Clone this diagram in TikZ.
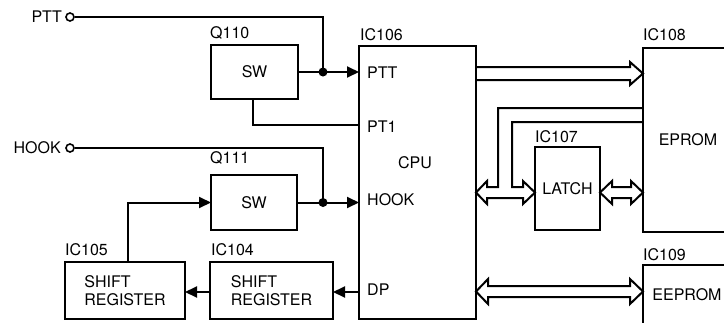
\documentclass[tikz,border=0pt]{standalone}
\usepackage{fontspec}
\setmainfont{TeX Gyre Heros}
\usetikzlibrary{arrows.meta,calc}
\begin{document}
\begin{tikzpicture}[x=1pt,y=-1pt,
 txt/.style={inner sep=0pt, font=\fontsize{16}{17.5}\selectfont},
 box/.style={draw, line width=2.8pt, inner sep=0pt, outer sep=0pt, anchor=north west, align=left, font=\fontsize{16}{17.5}\selectfont},
 lbl/.style={txt, anchor=west},
 wire/.style={line width=2pt},
 arr/.style={wire, -{Triangle[length=12pt,width=11pt]}},
 jdot/.style={circle, fill, inner sep=0pt, minimum size=9pt},
 opencirc/.style={circle, draw, line width=1.6pt, fill=white, inner sep=0pt, minimum size=8pt},
 bus/.style={line width=2pt, line join=miter}]
\useasboundingbox (0,0) rectangle (724,322);
\clip (0,0) rectangle (724,322);

% boxes
\node[box, minimum width=87, minimum height=54] (q110) at (211,45) {SW};
\node[box, minimum width=86, minimum height=55] (q111) at (211,175) {SW};
\node[box, minimum width=120, minimum height=57] (ic105) at (65,262) {SHIFT\\REGISTER};
\node[box, minimum width=123, minimum height=57] (ic104) at (210,262) {SHIFT\\REGISTER};
\node[box, minimum width=117, minimum height=273] (cpu) at (359,46) {};
\node[box, minimum width=65, minimum height=83] (latch) at (535,147) {LATCH};
\node[box, minimum width=90, minimum height=184] (eprom) at (643,48) {EPROM};
\node[box, minimum width=88, minimum height=60] (eeprom) at (643,265) {EEPROM};

% labels
\node[lbl] (lq110) at (210,33) {Q110};
\node[lbl] (lq111) at (210,158) {Q111};
\node[lbl] (l105) at (65,250) {IC105};
\node[lbl] (l104) at (211,250) {IC104};
\node[lbl] (l106) at (360,35) {IC106};
\node[lbl] (l108) at (643,35) {IC108};
\node[lbl] (l107) at (535,137) {IC107};
\node[lbl] (l109) at (643,255) {IC109};

% CPU pin labels
\node[lbl] (pttin) at (367,73) {PTT};
\node[lbl] (pt1in) at (367,127) {PT1};
\node[txt] (cpulbl) at (415,163) {CPU};
\node[lbl] (hookin) at (367,200) {HOOK};
\node[lbl] (dpin) at (367,290) {DP};

% inputs
\node[txt, anchor=east] (pttl) at (62,17) {PTT};
\node[opencirc] (pttc) at (70,17) {};
\node[txt, anchor=east] (hookl) at (61,148) {HOOK};
\node[opencirc] (hookc) at (70,148) {};

% junctions
\node[jdot] (j1) at (323,72) {};
\node[jdot] (j2) at (323,202.5) {};
\coordinate (pt1) at (359,125);

% wires
\draw[wire] (pttc.east) -| (j1.center);
\draw[wire] (q110.east) -- (j1.center);
\draw[arr] (j1.center) -- (cpu.west |- j1);
\draw[wire] ($(q110.south)+(-2,0)$) |- (pt1);
\draw[wire] (hookc.east) -| (j2.center);
\draw[wire] (q111.east) -- (j2.center);
\draw[arr] (j2.center) -- (cpu.west |- j2);
\draw[arr] ($(ic105.north)+(3,0)$) |- (q111.west);
\draw[arr] (cpu.west |- 0,292) -- (ic104.east |- 0,292);
\draw[arr] (ic104.west |- 0,292) -- (ic105.east |- 0,292);

% buses
\draw[bus] (cpu.east |- 0,67) -- (630,67) -- (630,62) -- (eprom.west |- 0,73.5) -- (630,85) -- (630,80) -- (cpu.east |- 0,80);
\draw[bus] (eprom.west |- 0,108) -- (498,108) -- (498,187) -- (487,187) -- (487,181) -- (cpu.east |- 0,192.5)
  -- (487,204) -- (487,198) -- (523,198) -- (523,204) -- (latch.west |- 0,192.5) -- (523,181) -- (523,187)
  -- (512,187) -- (512,122) -- (eprom.west |- 0,122);
\draw[bus] (latch.east |- 0,192.5) -- (612,181) -- (612,187) -- (631,187) -- (631,181) -- (eprom.west |- 0,192.5)
  -- (631,204) -- (631,198) -- (612,198) -- (612,204) -- cycle;
\draw[bus] (cpu.east |- 0,291.5) -- (488,279) -- (488,286) -- (630,286) -- (630,279) -- (eeprom.west |- 0,291.5)
  -- (630,304) -- (630,297) -- (488,297) -- (488,304) -- cycle;
\end{tikzpicture}
\end{document}
